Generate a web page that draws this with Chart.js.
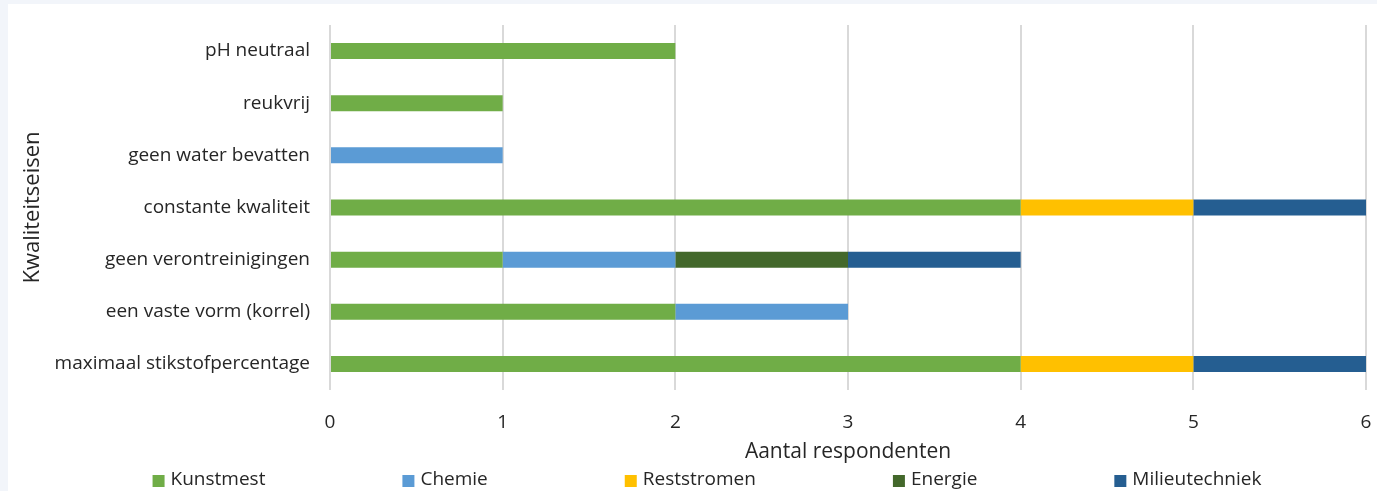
<!DOCTYPE html>
<html lang="nl">
<head>
<meta charset="utf-8">
<title>Kwaliteitseisen</title>
<script src="https://cdn.jsdelivr.net/npm/chart.js@4.4.1/dist/chart.umd.min.js"></script>
<style>
  html, body { margin: 0; padding: 0; background: #f2f5fa; }
  #wrap { position: absolute; left: 8px; top: 4px; width: 1369px; height: 487px; background: #ffffff; }
  canvas { display: block; }
</style>
</head>
<body>
<div id="wrap"><canvas id="chart" width="1369" height="487"></canvas></div>
<script>
// Quality requirements (top to bottom)
const categories = [
  'pH neutraal',
  'reukvrij',
  'geen water bevatten',
  'constante kwaliteit',
  'geen verontreinigingen',
  'een vaste vorm (korrel)',
  'maximaal stikstofpercentage'
];

// Number of respondents per sector
const kunstmest      = [2, 1, 0, 4, 1, 2, 4];
const chemie         = [0, 0, 1, 0, 1, 1, 0];
const reststromen    = [0, 0, 0, 1, 0, 0, 1];
const energie        = [0, 0, 0, 0, 1, 0, 0];
const milieutechniek = [0, 0, 0, 1, 1, 0, 1];

const xTicks = [0, 1, 2, 3, 4, 5, 6];

const FONT = "'Open Sans', 'Liberation Sans', sans-serif";
const TEXT = '#262626';

const series = [
  { label: 'Kunstmest',      data: kunstmest,      color: '#70ad47' },
  { label: 'Chemie',         data: chemie,         color: '#5b9bd5' },
  { label: 'Reststromen',    data: reststromen,    color: '#ffc000' },
  { label: 'Energie',        data: energie,        color: '#43682b' },
  { label: 'Milieutechniek', data: milieutechniek, color: '#255e91' }
];

// Single-row legend along the bottom edge, with a fixed gap between entries
const bottomLegend = {
  id: 'bottomLegend',
  afterDraw(chart) {
    const ctx = chart.ctx;
    const box = 12, textGap = 6, itemGap = 137;
    const y = chart.height - 11;
    ctx.save();
    ctx.font = '19px ' + FONT;
    ctx.textBaseline = 'middle';
    const items = chart.data.datasets.map(ds => ({
      label: ds.label,
      color: ds.backgroundColor,
      w: box + textGap + ctx.measureText(ds.label).width
    }));
    const total = items.reduce((s, it) => s + it.w, 0) + itemGap * (items.length - 1);
    let x = 699 - total / 2;
    items.forEach(it => {
      ctx.fillStyle = it.color;
      ctx.fillRect(x, y - box / 2 + 1, box, box);
      ctx.fillStyle = TEXT;
      ctx.fillText(it.label, x + box + textGap, y);
      x += it.w + itemGap;
    });
    ctx.restore();
  }
};

new Chart(document.getElementById('chart'), {
  type: 'bar',
  data: {
    labels: categories,
    datasets: series.map(s => ({
      label: s.label,
      data: s.data,
      backgroundColor: s.color,
      borderWidth: 0,
      barPercentage: 0.307,
      categoryPercentage: 1
    }))
  },
  options: {
    indexAxis: 'y',
    responsive: false,
    animation: false,
    layout: { padding: { top: 21, right: 11, left: 0, bottom: 25 } },
    scales: {
      x: {
        stacked: true,
        min: 0,
        max: 6,
        afterBuildTicks: axis => { axis.ticks = xTicks.map(v => ({ value: v })); },
        grid: { color: '#d9d9d9', lineWidth: 2, drawTicks: false },
        border: { display: false },
        ticks: { color: TEXT, font: { family: FONT, size: 19 }, padding: 21 },
        title: {
          display: true,
          text: 'Aantal respondenten',
          color: TEXT,
          font: { family: FONT, size: 21 },
          padding: { top: 0, bottom: 1 }
        },
        afterFit: axis => {
          axis.height = 76;
          axis.paddingLeft = 0;
          axis.paddingRight = 0;
        }
      },
      y: {
        stacked: true,
        grid: { display: false, drawTicks: false },
        border: { display: false },
        ticks: { color: TEXT, font: { family: FONT, size: 19 }, padding: 20 },
        title: {
          display: true,
          text: 'Kwaliteitseisen',
          color: TEXT,
          font: { family: FONT, size: 22 },
          padding: { top: 12, bottom: 0 }
        },
        afterFit: axis => {
          axis.width = 322;
          axis.paddingTop = 0;
          axis.paddingBottom = 0;
        }
      }
    },
    plugins: {
      legend: { display: false },
      tooltip: { enabled: false }
    }
  },
  plugins: [bottomLegend]
});
</script>
</body>
</html>
